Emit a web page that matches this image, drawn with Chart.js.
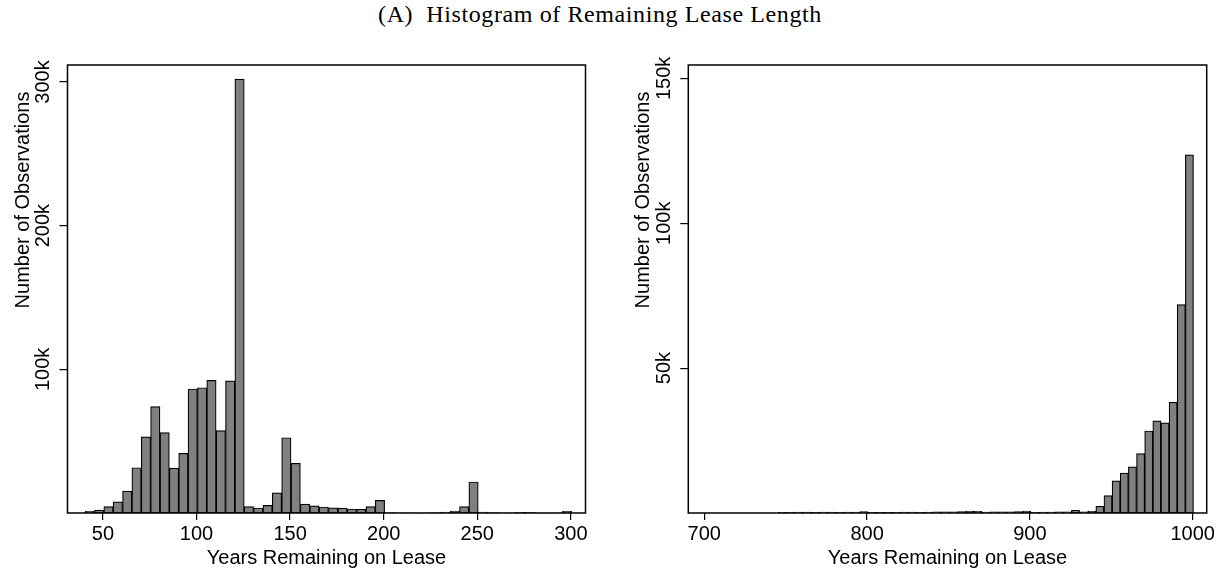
<!DOCTYPE html>
<html lang="en">
<head>
<meta charset="UTF-8">
<script src="https://cdn.jsdelivr.net/npm/chart.js"></script>
<style>
    html, body {
        margin: 0;
        padding: 0;
        background: #ffffff;
    }

    .page {
        position: relative;
        width: 1225px;
        height: 573px;
        overflow: hidden;
    }

    .title {
        position: absolute;
        left: 0;
        width: 1200px;
        top: 1px;
        text-align: center;
        font-family: "Liberation Serif", serif;
        font-size: 24px;
        letter-spacing: 0.6px;
        color: #000;
        white-space: pre;
    }

    .panel {
        position: absolute;
        top: 0;
        height: 573px;
    }

    #leftPanel { left: 0; width: 612px; }
    #rightPanel { left: 612px; width: 613px; }
</style>
</head>
<body>
<div class="page">
    <div class="title">(A)  Histogram of Remaining Lease Length</div>
    <div class="panel" id="leftPanel"><canvas id="leftChart"></canvas></div>
    <div class="panel" id="rightPanel"><canvas id="rightChart"></canvas></div>
</div>

<script>
// bin centres (5-year bins), counts in thousands
const leftBins = [43, 48, 53, 58, 63, 68, 73, 78, 83, 88, 93, 98, 103, 108, 113, 118, 123, 128, 133, 138,
    143, 148, 153, 158, 163, 168, 173, 178, 183, 188, 193, 198, 203, 208, 213, 218, 223, 228, 233, 238,
    243, 248, 253, 258, 263, 268, 273, 278, 283, 288, 293, 298];
const leftCounts = [1.2, 2.0, 4.4, 7.7, 15.3, 31.5, 53, 74, 56, 31.3, 41.5, 86.3, 87.2, 92.3, 57.3, 92, 302, 4.4, 3.5, 5.3,
    14, 52.4, 34.6, 6.2, 5.0, 4.2, 3.6, 3.4, 2.8, 2.6, 4.4, 8.8, 0.3, 0.2, 0.2, 0.2, 0.2, 0.3, 0.6, 1.4,
    4.4, 21.6, 0.6, 0.3, 0.2, 0.2, 0.4, 0.4, 0.2, 0.2, 0.2, 1.2];

const rightBins = [703, 708, 713, 718, 723, 728, 733, 738, 743, 748, 753, 758, 763, 768, 773, 778, 783, 788, 793, 798,
    803, 808, 813, 818, 823, 828, 833, 838, 843, 848, 853, 858, 863, 868, 873, 878, 883, 888, 893, 898,
    903, 908, 913, 918, 923, 928, 933, 938, 943, 948, 953, 958, 963, 968, 973, 978, 983, 988, 993, 998];
const rightCounts = [0, 0, 0, 0, 0, 0, 0, 0, 0, 0.2, 0.2, 0.3, 0.3, 0.2, 0.3, 0.3, 0.2, 0.3, 0.3, 0.5,
    0.2, 0.2, 0.2, 0.2, 0.3, 0.3, 0.2, 0.3, 0.4, 0.4, 0.4, 0.5, 0.7, 0.6, 0.3, 0.4, 0.4, 0.4, 0.5, 0.7,
    0.2, 0.3, 0.3, 0.4, 0.4, 0.9, 0.4, 0.7, 2.3, 6.0, 11.1, 13.8, 15.9, 20.5, 28.3, 31.8, 31.1, 38.2, 71.9, 123.6];

const leftXTicks = [50, 100, 150, 200, 250, 300];
const leftYTicks = [100, 200, 300];
const rightXTicks = [700, 800, 900, 1000];
const rightYTicks = [50, 100, 150];

const xTitle = 'Years Remaining on Lease';
const yTitle = 'Number of Observations';

const FONT = '"Liberation Sans", Arial, sans-serif';

// frame, rotated y tick labels and axis titles (Stata look)
const stataPlugin = {
    id: 'stata',
    afterDraw(chart, args, opts) {
        const ctx = chart.ctx;
        const area = chart.chartArea;
        const y = chart.scales.y;

        ctx.save();
        ctx.strokeStyle = '#000';
        ctx.lineWidth = 1.5;
        ctx.strokeRect(area.left, area.top, area.right - area.left, area.bottom - area.top);

        ctx.fillStyle = '#000';
        ctx.font = '20px ' + FONT;
        ctx.textAlign = 'center';
        ctx.textBaseline = 'middle';

        y.ticks.forEach(t => {
            const py = y.getPixelForValue(t.value);
            ctx.save();
            ctx.translate(opts.tickX, py);
            ctx.rotate(-Math.PI / 2);
            ctx.fillText(t.value + 'k', 0, 0);
            ctx.restore();
        });

        ctx.save();
        ctx.translate(opts.titleX, opts.titleY);
        ctx.rotate(-Math.PI / 2);
        ctx.fillText(yTitle, 0, 0);
        ctx.restore();

        ctx.textBaseline = 'alphabetic';
        ctx.fillText(xTitle, (area.left + area.right) / 2, 563.5);
        ctx.restore();
    }
};

function makeChart(id, bins, counts, xMin, xMax, yMax, xTicks, yTicks, yWidth, padRight, opts) {
    const points = bins.map((b, i) => ({ x: b, y: counts[i] }));
    return new Chart(document.getElementById(id), {
        type: 'bar',
        data: {
            datasets: [{
                data: points,
                backgroundColor: '#808080',
                borderColor: '#000000',
                borderWidth: 1.2,
                borderSkipped: false,
                barPercentage: 1.0,
                categoryPercentage: 1.0
            }]
        },
        options: {
            responsive: true,
            maintainAspectRatio: false,
            animation: false,
            events: [],
            layout: {
                padding: { top: 65, right: padRight, left: 0, bottom: 0 }
            },
            plugins: {
                legend: { display: false },
                tooltip: { enabled: false },
                stata: opts
            },
            scales: {
                x: {
                    type: 'linear',
                    offset: false,
                    min: xMin,
                    max: xMax,
                    border: { display: false },
                    grid: {
                        offset: false,
                        drawOnChartArea: false,
                        drawTicks: true,
                        tickLength: 7,
                        color: '#000',
                        lineWidth: 1.2
                    },
                    ticks: {
                        color: '#000',
                        font: { family: FONT, size: 20 },
                        padding: 2,
                        maxRotation: 0,
                        autoSkip: false,
                        callback: v => String(v)
                    },
                    afterBuildTicks: s => { s.ticks = xTicks.map(v => ({ value: v })); },
                    afterFit: s => { s.height = 60; }
                },
                y: {
                    min: 0,
                    max: yMax,
                    border: { display: false },
                    grid: {
                        drawOnChartArea: false,
                        drawTicks: true,
                        tickLength: 8,
                        color: '#000',
                        lineWidth: 1.2
                    },
                    ticks: { display: false },
                    afterBuildTicks: s => { s.ticks = yTicks.map(v => ({ value: v })); },
                    afterFit: s => { s.width = yWidth; }
                }
            }
        },
        plugins: [stataPlugin]
    });
}

makeChart('leftChart', leftBins, leftCounts, 31.1, 307.8, 311.8, leftXTicks, leftYTicks, 67.5, 26.5,
    { tickX: 43, titleX: 23, titleY: 200 });
makeChart('rightChart', rightBins, rightCounts, 690.2, 1008.6, 154.6, rightXTicks, rightYTicks, 76.3, 18.3,
    { tickX: 52, titleX: 31, titleY: 200 });
</script>
</body>
</html>
